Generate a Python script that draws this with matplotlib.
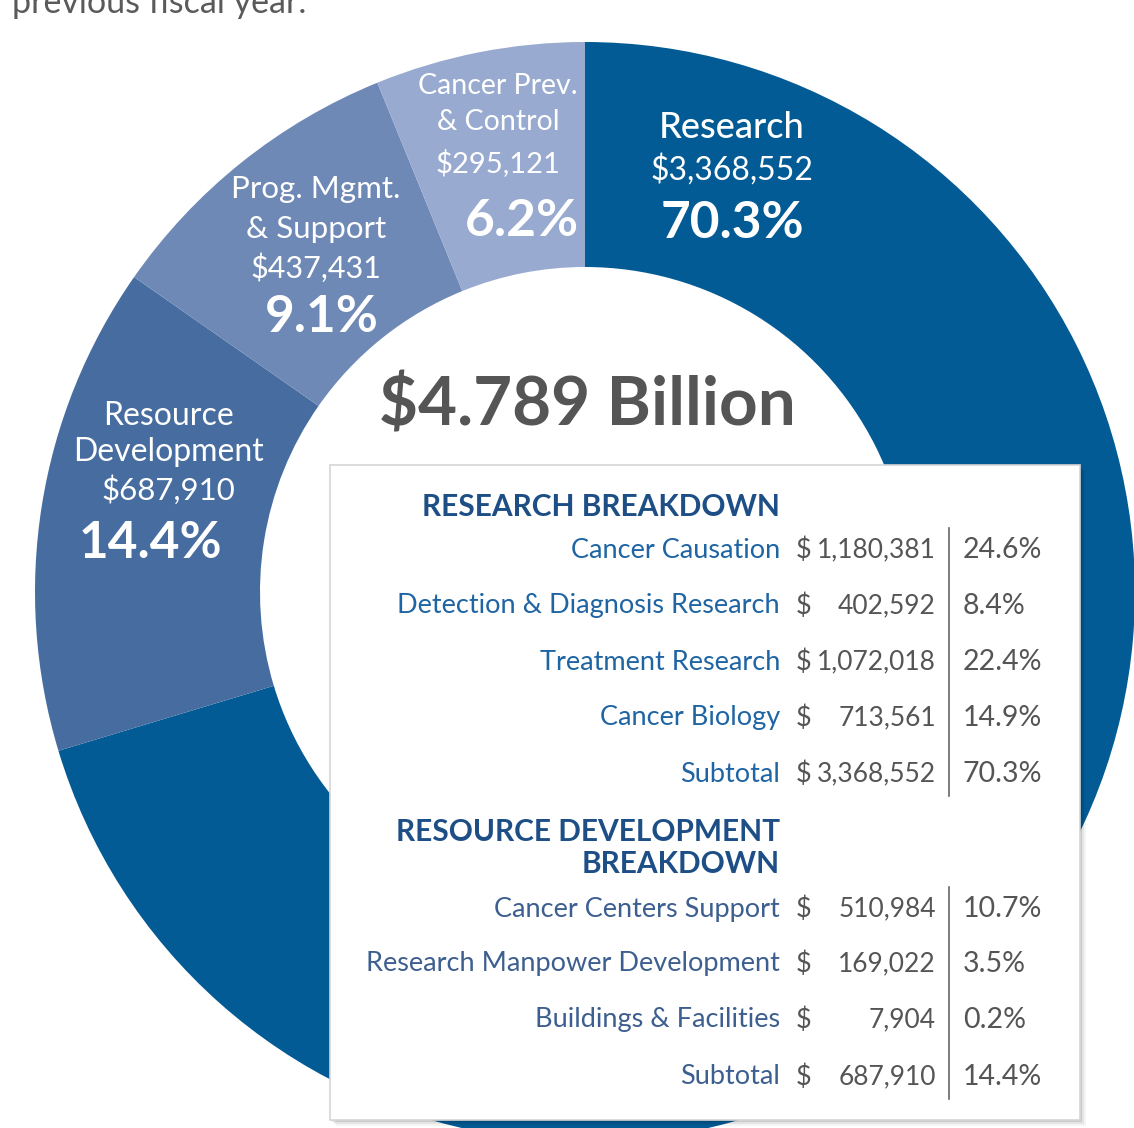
import matplotlib.pyplot as plt
from matplotlib.patches import Rectangle

# ---------------------------------------------------------------------------
# data (thousands of dollars)
# ---------------------------------------------------------------------------
categories = ["Research", "Resource\nDevelopment", "Prog. Mgmt.\n& Support", "Cancer Prev.\n& Control"]
amounts = [3368552, 687910, 437431, 295121]
colors = ["#035b95", "#476da0", "#6f89b6", "#98aacf"]

research_items = ["Cancer Causation", "Detection & Diagnosis Research", "Treatment Research",
                  "Cancer Biology", "Subtotal"]
research_amounts = [1180381, 402592, 1072018, 713561, 3368552]
research_pcts = [24.6, 8.4, 22.4, 14.9, 70.3]

resdev_items = ["Cancer Centers Support", "Research Manpower Development",
                "Buildings & Facilities", "Subtotal"]
resdev_amounts = [510984, 169022, 7904, 687910]
resdev_pcts = [10.7, 3.5, 0.2, 14.4]

W, H = 1134, 1128
total = sum(amounts)

def Y(p):
    # pixel row (from top) -> data y
    return H - p

fig = plt.figure(figsize=(W / 100, H / 100), dpi=100)
ax = fig.add_axes([0, 0, 1, 1])

# donut
cx, cy = 585, Y(592)
R, r = 550, 325
ax.pie(amounts, colors=colors, startangle=90, counterclock=False,
       center=(cx, cy), radius=R, wedgeprops=dict(width=R - r, linewidth=0))
ax.set_xlim(0, W)
ax.set_ylim(0, H)
ax.set_aspect('equal')
ax.axis('off')

# wedge labels: (x, name y, amount y, pct x offset, pct y, name size, amount size, spacing)
white = 'white'
lab_font = ['Lato', 'DejaVu Sans']
label_pos = [(732, 127, 170, 0, 224, 26, 23, 1.2),
             (168, 434, 490, -18, 543, 23, 22.5, 1.25),
             (316, 209, 268, 6, 318, 22.5, 22, 1.5),
             (498, 104, 163, 24, 222, 20.5, 21, 1.45)]
for name, amt, (lx, ny, ay, dx, py, ns, asz, ls), i in zip(categories, amounts, label_pos, range(4)):
    pct = f"{amt / total * 100:.1f}%"
    ax.text(lx, Y(ny), name, ha='center', va='center', color=white, family=lab_font,
            fontsize=ns, linespacing=ls, fontweight='medium' if i == 0 else 'normal')
    ax.text(lx, Y(ay), f"${amt:,}", ha='center', va='center', color=white, family=lab_font,
            fontsize=asz)
    ax.text(lx + dx, Y(py), pct, ha='center', va='center', color=white, family=lab_font,
            fontsize=37, fontweight='bold')

# total in the centre
ax.text(587, Y(407), f"${total / 1e6:.3f} Billion", ha='center', va='center', color='#555555',
        family=lab_font, fontsize=48.5, fontweight='bold')

# previous-page caption, cut by the top edge
ax.text(12, Y(13), "previous fiscal year.", ha='left', va='baseline', color='#5a5a5a',
        family=lab_font, fontsize=24.5)

# table box with soft shadow
bx0, bx1, by0, by1 = 330, 1080, 465, 1120
for k, a in enumerate([0.10, 0.07, 0.04]):
    ax.add_patch(Rectangle((bx0 + 2 + k * 2, Y(by1) - 2 - k * 2), bx1 - bx0, by1 - by0,
                           facecolor='#000000', alpha=a, edgecolor='none', zorder=3))
ax.add_patch(Rectangle((bx0, Y(by1)), bx1 - bx0, by1 - by0, facecolor='white',
                       edgecolor='#d5d5d5', linewidth=1.2, zorder=4))

tab_font = ['Lato', 'DejaVu Sans']
head_c = '#1d4f86'
num_c = '#555555'
lx_lab, lx_dol, lx_val, lx_bar, lx_pct = 780, 796, 936, 949, 963

def table(title_lines, title_y, items, vals, pcts, row_y, row_c):
    for t, ty in zip(title_lines, title_y):
        ax.text(lx_lab, Y(ty), t, ha='right', va='center', color=head_c, family=tab_font,
                fontsize=21.5, fontweight='bold', zorder=5)
    for it, v, p, ry in zip(items, vals, pcts, row_y):
        ax.text(lx_lab, Y(ry), it, ha='right', va='center', color=row_c, family=tab_font,
                fontsize=19.5, zorder=5)
        ax.text(lx_dol, Y(ry), "$", ha='left', va='center', color=num_c, family=tab_font,
                fontsize=19.5, zorder=5)
        ax.text(lx_val, Y(ry), f"{v:,}", ha='right', va='center', color=num_c, family=tab_font,
                fontsize=19, zorder=5)
        ax.text(lx_pct, Y(ry), f"{p:.1f}%", ha='left', va='center', color=num_c, family=tab_font,
                fontsize=20.5, zorder=5)
    ax.plot([lx_bar, lx_bar], [Y(row_y[0] - 22), Y(row_y[-1] + 22)], color='#666666',
            linewidth=1.2, zorder=5)

table(["RESEARCH BREAKDOWN"], [507], research_items, research_amounts, research_pcts,
      [550, 606, 662, 718, 774], '#1f64a3')
table(["RESOURCE DEVELOPMENT", "BREAKDOWN"], [832, 864], resdev_items, resdev_amounts, resdev_pcts,
      [909, 964, 1020, 1077], '#3d5f90')

plt.savefig('out.png', dpi=100)
